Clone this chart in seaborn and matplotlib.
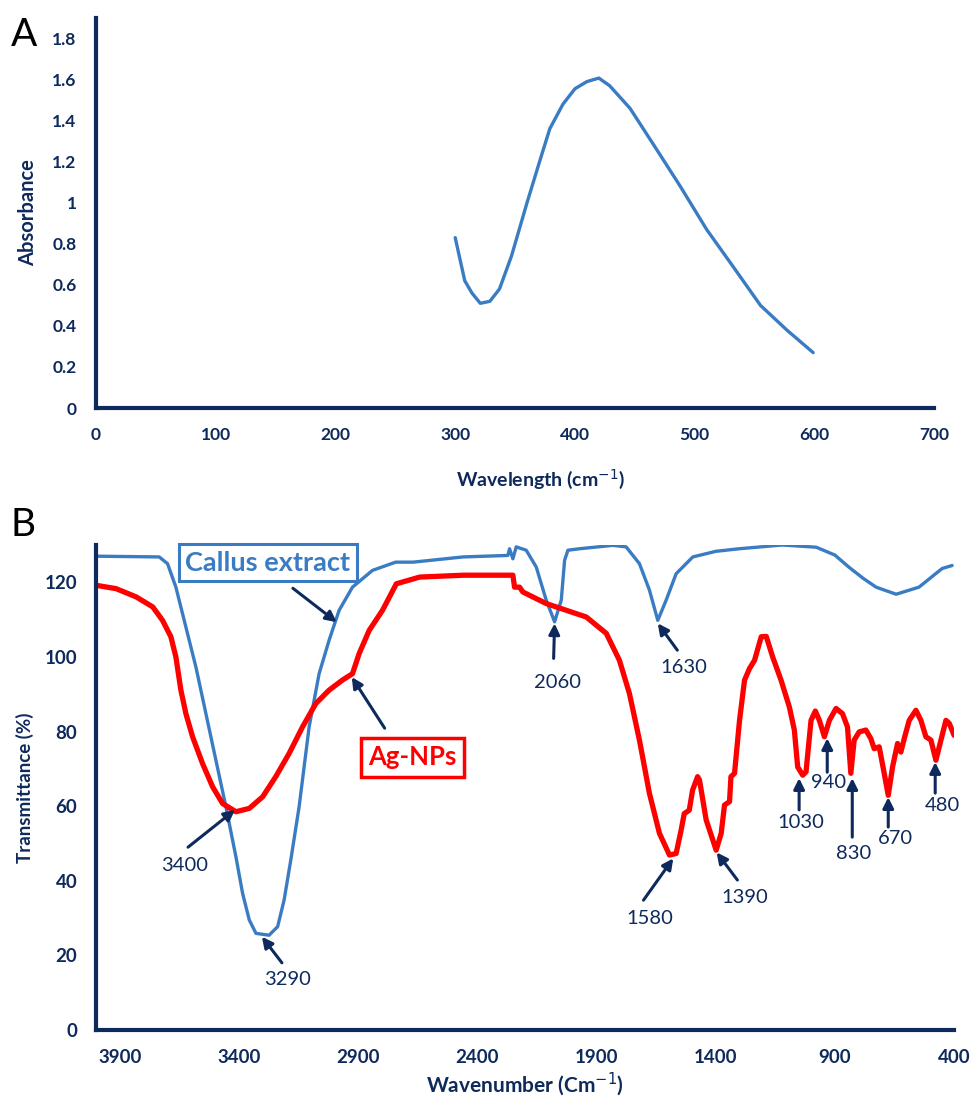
import numpy as np
import pandas as pd
import seaborn as sns
from matplotlib import pyplot as plt

# Panel A: UV-Vis absorbance
wavelength = [300, 308, 314, 321, 329, 337, 347, 360, 371, 379, 390, 400, 410, 420,
              429, 446, 466, 488, 510, 532, 555, 577, 599]
absorbance = [0.83, 0.62, 0.56, 0.51, 0.52, 0.58, 0.74, 1.00, 1.21, 1.36, 1.48, 1.555, 1.59, 1.607,
              1.57, 1.46, 1.28, 1.08, 0.87, 0.69, 0.50, 0.38, 0.27]

# Panel B: FTIR, callus extract
callus_wn = [4000, 3735, 3700, 3665, 3623, 3581, 3539, 3497, 3455, 3413, 3385, 3357, 3329,
             3274, 3238, 3211, 3183, 3148, 3106, 3064, 3022, 2980, 2924, 2840, 2743, 2670,
             2460, 2272, 2265, 2251, 2237, 2195, 2153, 2111, 2076, 2048, 2034, 2020, 1971,
             1832, 1776, 1720, 1678, 1643, 1608, 1566, 1496, 1400, 1300, 1121, 978, 900,
             840, 780, 727, 643, 547, 450, 408]
callus_t = [127.0, 126.8, 125.0, 118.7, 108.0, 97.3, 84.8, 72.3, 59.8, 46.4, 36.6, 29.5, 25.9,
            25.4, 27.7, 34.8, 45.5, 59.8, 81.2, 95.5, 104.5, 112.5, 118.7, 123.2, 125.4, 125.4,
            126.8, 127.2, 129.0, 126.3, 129.5, 128.6, 124.1, 115.2, 109.4, 115.2, 125.9, 128.6, 129.0,
            129.9, 129.5, 125.0, 117.9, 109.8, 115.2, 122.3, 126.8, 128.3, 129.0, 130.0, 129.4, 127.3,
            124.0, 121.0, 118.7, 116.8, 118.7, 123.7, 124.5]

# Panel B: FTIR, Ag-NPs
agnp_wn = [4000, 3916, 3832, 3762, 3721, 3686, 3665, 3644, 3623, 3595, 3553, 3511, 3469, 3413,
           3357, 3301, 3246, 3190, 3134, 3078, 3022, 2966, 2924, 2896, 2854, 2798, 2740, 2642,
           2460, 2251, 2244, 2223, 2209, 2111, 2027, 1943, 1859, 1804, 1762, 1720, 1678, 1636,
           1594, 1566, 1545, 1532, 1511, 1497, 1476, 1468, 1440, 1398, 1377, 1363, 1342, 1336,
           1321, 1300, 1279, 1258, 1237, 1209, 1188, 1161, 1126, 1091, 1070, 1056, 1035, 1021,
           1000, 982, 965, 944, 923, 895, 868, 847, 833, 819, 798, 770, 749, 735, 714, 693, 676,
           658, 637, 623, 609, 588, 560, 539, 518, 497, 476, 455, 434, 420, 400]
agnp_t = [119.2, 118.3, 116.1, 113.4, 109.8, 105.4, 100.0, 91.1, 84.8, 78.6, 71.4, 65.2, 60.7, 58.5,
          59.4, 62.5, 67.9, 74.1, 81.2, 87.5, 91.1, 93.8, 95.5, 100.9, 107.1, 112.5, 119.6, 121.4,
          121.9, 121.9, 118.7, 118.7, 117.4, 114.3, 112.5, 110.7, 106.3, 99.1, 90.2, 77.7, 63.4, 52.7,
          46.9, 47.3, 53.6, 58.0, 58.9, 64.3, 67.9, 67.0, 56.3, 48.2, 52.7, 60.3, 61.2, 67.9,
          68.8, 83.0, 93.8, 96.9, 99.1, 105.4, 105.5, 100.0, 93.8, 86.6, 80.4, 70.5, 68.3, 69.2,
          83.0, 85.5, 83.0, 78.6, 83.0, 86.2, 84.8, 81.2, 68.8, 77.7, 79.9, 80.4, 78.1, 75.4, 75.9, 68.8, 62.9,
          70.5, 76.8, 74.5, 78.1, 83.0, 85.7, 83.0, 78.6, 77.7, 72.3, 77.7, 83.0, 82.2, 79.0]

# peak labels: text, text position, arrow tail, arrow head
peak_labels = ["3400", "3290", "2060", "1630", "1580", "1390", "1030", "940", "830", "670", "480"]
peak_text_xy = [(3627, 44.2), (3195, 13.4), (2064, 93.2), (1532, 97.2), (1678, 30.0), (1280, 35.4),
                (1041, 55.5), (925, 66.4), (823, 47.4), (647, 51.2), (450, 60.3)]
peak_tail_xy = [(3614, 49.0), (3220, 18.0), (2080, 99.6), (1561, 101.8), (1703, 34.8), (1309, 40.2),
                (1050, 59.0), (932, 69.1), (827, 51.7), (676, 54.4), (479, 63.5)]
peak_head_xy = [(3417, 59.0), (3304, 25.0), (2076, 109.0), (1643, 109.0), (1578, 46.0), (1396, 47.6),
                (1050, 67.5), (932, 78.2), (827, 67.5), (676, 62.4), (479, 71.8)]

navy = '#0e2a5c'
blue = '#3a7cc3'
red = '#ff0000'

sns.set_style('white')
plt.rcParams['font.family'] = ['Lato', 'DejaVu Sans']

fig = plt.figure(figsize=(9.74, 11.01), dpi=100)
ax1 = fig.add_axes([0.0986, 0.6294, 0.8604, 0.3543])
ax2 = fig.add_axes([0.0986, 0.0645, 0.8809, 0.4405])

# ---- Panel A ----
df_a = pd.DataFrame({'Wavelength': wavelength, 'Absorbance': absorbance})
sns.lineplot(x='Wavelength', y='Absorbance', data=df_a, ax=ax1, color=blue, linewidth=2.4,
             solid_joinstyle='round')
ax1.set_xlim(0, 700)
ax1.set_ylim(0, 1.9)
ax1.set_xticks(range(0, 701, 100))
ax1.set_yticks(np.arange(0, 1.81, 0.2))
ax1.set_yticklabels(['0', '0.2', '0.4', '0.6', '0.8', '1', '1.2', '1.4', '1.6', '1.8'])
ax1.set_xlabel('Wavelength (cm$^{\\mathsf{-1}}$)', fontsize=14, fontweight='bold', color=navy)
ax1.xaxis.set_label_coords(0.53, -0.15)
ax1.set_ylabel('Absorbance', fontsize=14.5, fontweight='bold', color=navy, labelpad=10)
ax1.tick_params(length=0, labelsize=12.5, labelcolor=navy, pad=14)
for lab in ax1.get_xticklabels() + ax1.get_yticklabels():
    lab.set_fontweight('bold')
for side in ['top', 'right']:
    ax1.spines[side].set_visible(False)
for side in ['left', 'bottom']:
    ax1.spines[side].set_color(navy)
    ax1.spines[side].set_linewidth(3)
fig.text(0.011, 0.958, 'A', fontsize=28, color='black')

# ---- Panel B ----
df_c = pd.DataFrame({'Wavenumber': callus_wn, 'T': callus_t})
df_g = pd.DataFrame({'Wavenumber': agnp_wn, 'T': agnp_t})
sns.lineplot(x='Wavenumber', y='T', data=df_c, ax=ax2, color=blue, linewidth=2.4, sort=False,
             solid_joinstyle='round')
sns.lineplot(x='Wavenumber', y='T', data=df_g, ax=ax2, color=red, linewidth=3.8, sort=False,
             solid_joinstyle='round')
ax2.set_xlim(4000, 400)
ax2.set_ylim(0, 130)
ax2.set_xticks(range(3900, 399, -500))
ax2.set_yticks(range(0, 121, 20))
ax2.set_xlabel('Wavenumber (Cm$^{\\mathsf{-1}}$)', fontsize=15, fontweight='bold', color=navy, labelpad=3)
ax2.set_ylabel('Transmittance (%)', fontsize=13.5, fontweight='bold', color=navy, labelpad=8)
ax2.tick_params(direction='inout', length=11, width=2, color=navy, labelsize=13.5,
                labelcolor=navy, pad=8)
for lab in ax2.get_xticklabels() + ax2.get_yticklabels():
    lab.set_fontweight('bold')
for side in ['top', 'right']:
    ax2.spines[side].set_visible(False)
for side in ['left', 'bottom']:
    ax2.spines[side].set_color(navy)
    ax2.spines[side].set_linewidth(3)
fig.text(0.011, 0.513, 'B', fontsize=28, color='black')

arrow_style = dict(arrowstyle='-|>', color=navy, lw=2.2, mutation_scale=16, shrinkA=0, shrinkB=0)

ax2.annotate('', xy=(2990, 109.3), xytext=(3174, 118.4), arrowprops=arrow_style)
ax2.text(3279, 125.3, 'Callus extract', fontsize=19.5, fontweight='bold', color=blue,
         ha='center', va='center',
         bbox=dict(boxstyle='square,pad=0.25', facecolor='white', edgecolor=blue, linewidth=2.2))
ax2.annotate('', xy=(2927, 94.6), xytext=(2789, 80.9), arrowprops=arrow_style)
ax2.text(2672, 73.1, 'Ag-NPs', fontsize=18.5, fontweight='bold', color=red,
         ha='center', va='center',
         bbox=dict(boxstyle='square,pad=0.3', facecolor='white', edgecolor=red, linewidth=2.5))

for lab, txy, tail, head in zip(peak_labels, peak_text_xy, peak_tail_xy, peak_head_xy):
    ax2.annotate('', xy=head, xytext=tail, arrowprops=arrow_style)
    ax2.text(txy[0], txy[1], lab, fontsize=14.5, color=navy, ha='center', va='center')

plt.savefig('out.png', dpi=100)
plt.close()
